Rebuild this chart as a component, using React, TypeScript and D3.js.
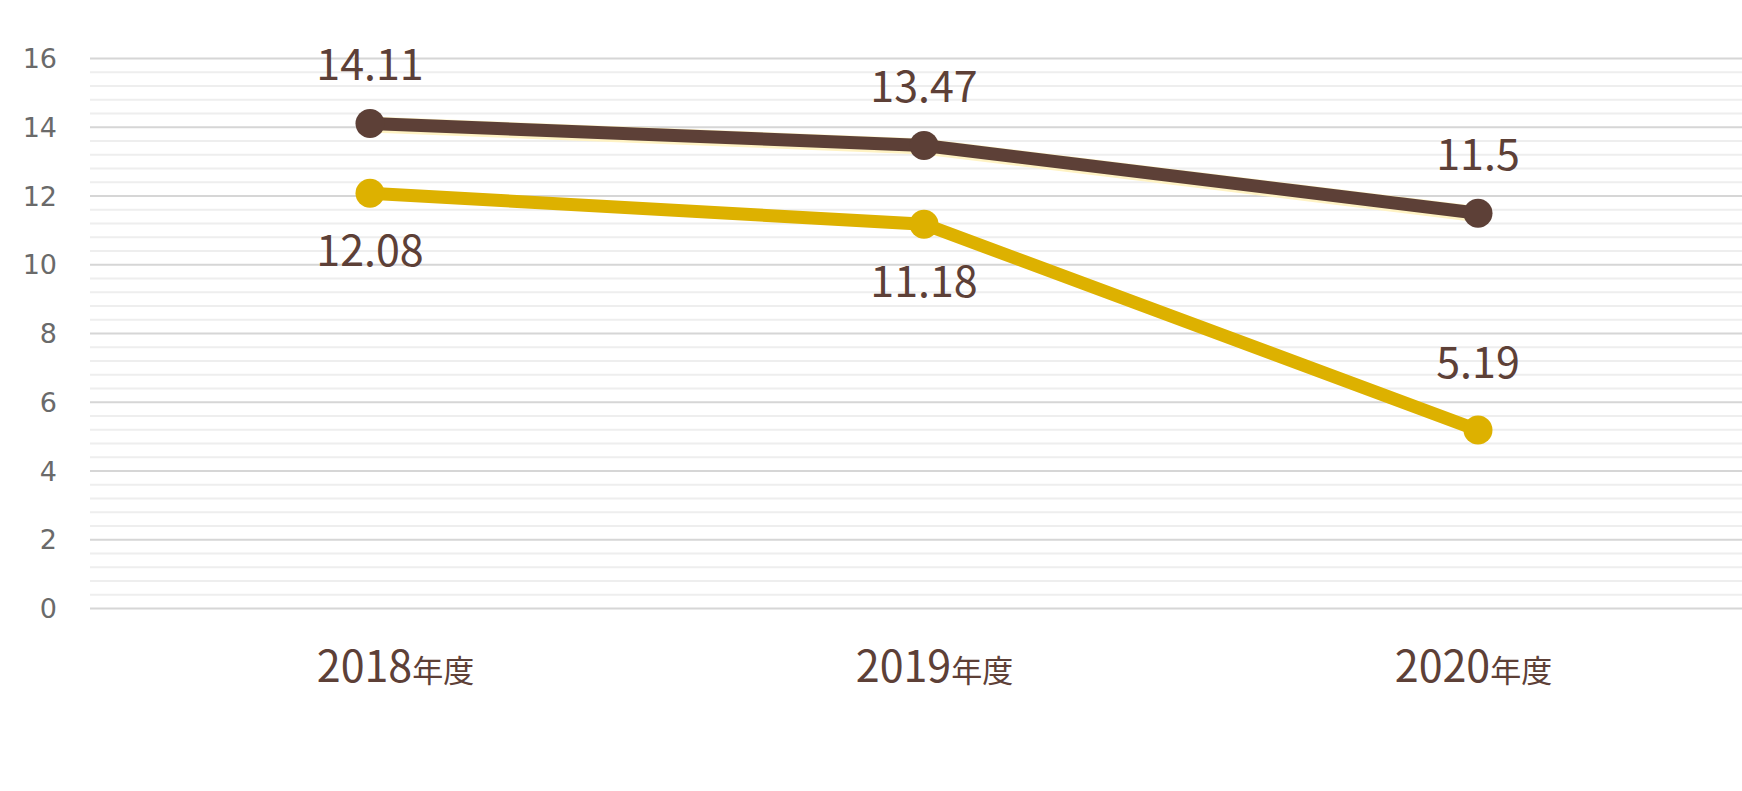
import React from "react";
import * as d3 from "d3";

const categories = ["2018", "2019", "2020"];
const categorySuffix = "年度";
const seriesBrown = [14.11, 13.47, 11.5];
const seriesYellow = [12.08, 11.18, 5.19];
const yellowLabelBelow = [true, true, false];
const yTicks = [0, 2, 4, 6, 8, 10, 12, 14, 16];

const W = 1742;
const H = 791;
const BROWN = "#5d4037";
const YELLOW = "#ddb100";
const FONT = "'Noto Sans CJK JP', 'Noto Sans', sans-serif";

export default function App() {
  const y = d3.scaleLinear().domain([0, 16]).range([608.5, 58.5]);
  const x = d3.scalePoint<string>().domain(categories).range([370, 1478]);
  const xLab = d3.scaleBand<string>().domain(categories).range([126, 1743]);
  const gridLeft = 90;
  const gridRight = 1742;

  const minorTicks = d3.range(0, 16.001, 0.4).filter(
    (v) => Math.abs(v / 2 - Math.round(v / 2)) > 1e-6
  );

  const line = d3
    .line<number>()
    .x((_, i) => x(categories[i]) as number)
    .y((d) => y(d));

  return (
    <svg
      width={W}
      height={H}
      style={{ position: "absolute", left: 0, top: 0, background: "#fff" }}
    >
      <rect width={W} height={H} fill="#fff" />
      {minorTicks.map((v, i) => (
        <line
          key={"m" + i}
          x1={gridLeft}
          x2={gridRight}
          y1={y(v)}
          y2={y(v)}
          stroke="#eeeeee"
          strokeWidth={2}
        />
      ))}
      {yTicks.map((v) => (
        <line
          key={"g" + v}
          x1={gridLeft}
          x2={gridRight}
          y1={y(v)}
          y2={y(v)}
          stroke="#d6d6d6"
          strokeWidth={2}
        />
      ))}
      {yTicks.map((v) => (
        <text
          key={"t" + v}
          x={57}
          y={y(v)}
          textAnchor="end"
          dominantBaseline="central"
          fontFamily="'DejaVu Sans', Verdana, sans-serif"
          fontSize={27}
          fill="#6a6a6a"
        >
          {v}
        </text>
      ))}

      <path
        d={line(seriesBrown) || ""}
        fill="none"
        stroke="#fff3c4"
        strokeWidth={16}
        transform="translate(0,1)"
      />
      <path
        d={line(seriesBrown) || ""}
        fill="none"
        stroke={BROWN}
        strokeWidth={13}
      />
      <path
        d={line(seriesYellow) || ""}
        fill="none"
        stroke={YELLOW}
        strokeWidth={13}
      />
      {seriesBrown.map((v, i) => (
        <circle
          key={"cb" + i}
          cx={x(categories[i])}
          cy={y(v)}
          r={14.5}
          fill={BROWN}
        />
      ))}
      {seriesYellow.map((v, i) => (
        <circle
          key={"cy" + i}
          cx={x(categories[i])}
          cy={y(v)}
          r={14.5}
          fill={YELLOW}
        />
      ))}

      {seriesBrown.map((v, i) => (
        <text
          key={"lb" + i}
          x={x(categories[i])}
          y={y(v) - 43}
          textAnchor="middle"
          fontFamily={FONT}
          fontSize={43}
          fill={BROWN}
        >
          {String(v)}
        </text>
      ))}
      {seriesYellow.map((v, i) => (
        <text
          key={"ly" + i}
          x={x(categories[i])}
          y={yellowLabelBelow[i] ? y(v) + 73 : y(v) - 52}
          textAnchor="middle"
          fontFamily={FONT}
          fontSize={43}
          fill={BROWN}
        >
          {String(v)}
        </text>
      ))}

      {categories.map((c) => (
        <text
          key={"x" + c}
          x={(xLab(c) as number) + xLab.bandwidth() / 2}
          y={682}
          textAnchor="middle"
          fontFamily={FONT}
          fontSize={43}
          fill={BROWN}
        >
          {c}
          <tspan fontSize={31}>{categorySuffix}</tspan>
        </text>
      ))}
    </svg>
  );
}
